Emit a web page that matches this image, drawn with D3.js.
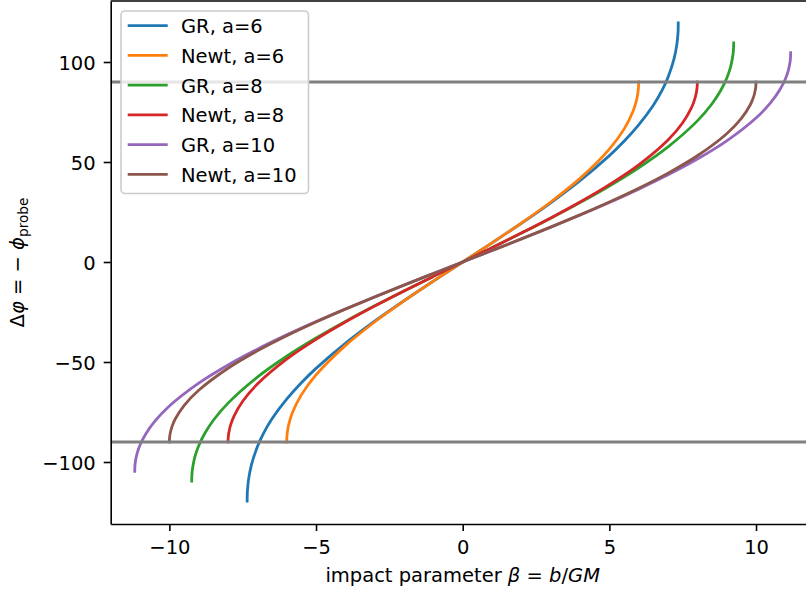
<!DOCTYPE html>
<html>
<head>
<meta charset="utf-8">
<script src="https://cdn.jsdelivr.net/npm/d3@7"></script>
<style>
  body { margin: 0; background: #fff; }
  svg { display: block; font-family: "DejaVu Sans", sans-serif; }
</style>
</head>
<body>
<svg id="chart" width="806" height="592"></svg>
<script>
// impact parameter beta = b/GM and deflection (degrees)
const grBeta6 = [-7.348, -7.345, -7.34, -7.3, -7.2, -7, -6.8, -6.5, -6, -5.5, -5, -4, -3, -2, -1, 0,
                 1, 2, 3, 4, 5, 5.5, 6, 6.5, 6.8, 7, 7.2, 7.3, 7.34, 7.345, 7.348];
const grPhi6 = [-119.6, -116.2, -114.6, -108.7, -101.3, -92.4, -85.9, -78.4, -68.6, -60.4, -53.2, -40.69, -29.62, -19.37, -9.58, 0,
                9.58, 19.37, 29.62, 40.69, 53.2, 60.4, 68.6, 78.4, 85.9, 92.4, 101.3, 108.7, 114.6, 116.2, 119.6];

const nwBeta6 = [-6, -5.99, -5.95, -5.9, -5.8, -5.5, -5, -4, -3, -2, -1, 0,
                 1, 2, 3, 4, 5, 5.5, 5.8, 5.9, 5.95, 5.99, 6];
const nwPhi6 = [-90, -86.69, -82.6, -79.52, -75.16, -66.44, -56.44, -41.81, -30, -19.47, -9.59, 0,
                9.59, 19.47, 30, 41.81, 56.44, 66.44, 75.16, 79.52, 82.6, 86.69, 90];

const grBeta8 = [-9.2376, -9.233, -9.22, -9.15, -9.1, -9, -8.8, -8.5, -8, -7, -6, -5, -4, -3, -2, -1, 0,
                 1, 2, 3, 4, 5, 6, 7, 8, 8.5, 8.8, 9, 9.1, 9.15, 9.22, 9.233, 9.2376];
const grPhi8 = [-109.6, -106.75, -104.38, -98.55, -95.93, -91.85, -85.88, -79.13, -70.56, -57.57, -47.14, -38.03, -29.72, -21.91, -14.45, -7.18, 0,
                7.18, 14.45, 21.91, 29.72, 38.03, 47.14, 57.57, 70.56, 79.13, 85.88, 91.85, 95.93, 98.55, 104.38, 106.75, 109.6];

const nwBeta8 = [-8, -7.99, -7.95, -7.9, -7.8, -7.5, -7, -6, -5, -4, -3, -2, -1, 0,
                 1, 2, 3, 4, 5, 6, 7, 7.5, 7.8, 7.9, 7.95, 7.99, 8];
const nwPhi8 = [-90, -87.13, -83.59, -80.93, -77.16, -69.64, -61.04, -48.59, -38.68, -30, -22.02, -14.48, -7.18, 0,
                7.18, 14.48, 22.02, 30, 38.68, 48.59, 61.04, 69.64, 77.16, 80.93, 83.59, 87.13, 90];

const grBeta10 = [-11.1803, -11.175, -11.16, -11.1, -11, -10.8, -10.5, -10, -9, -8, -7, -6, -5, -4, -3, -2, -1, 0,
                  1, 2, 3, 4, 5, 6, 7, 8, 9, 10, 10.5, 10.8, 11, 11.1, 11.16, 11.175, 11.1803];
const grPhi10 = [-104.7, -102.12, -99.97, -95.7, -91.5, -85.86, -79.68, -72.03, -60.58, -51.47, -43.57, -36.42, -29.76, -23.47, -17.42, -11.52, -5.74, 0,
                 5.74, 11.52, 17.42, 23.47, 29.76, 36.42, 43.57, 51.47, 60.58, 72.03, 79.68, 85.86, 91.5, 95.7, 99.97, 102.12, 104.7];

const nwBeta10 = [-10, -9.99, -9.95, -9.9, -9.8, -9.5, -9, -8, -7, -6, -5, -4, -3, -2, -1, 0,
                  1, 2, 3, 4, 5, 6, 7, 8, 9, 9.5, 9.8, 9.9, 9.95, 9.99, 10];
const nwPhi10 = [-90, -87.44, -84.27, -81.89, -78.52, -71.81, -64.16, -53.13, -44.43, -36.87, -30, -23.58, -17.46, -11.54, -5.74, 0,
                 5.74, 11.54, 17.46, 23.58, 30, 36.87, 44.43, 53.13, 64.16, 71.81, 78.52, 81.89, 84.27, 87.44, 90];

const seriesNames = ["GR, a=6", "Newt, a=6", "GR, a=8", "Newt, a=8", "GR, a=10", "Newt, a=10"];
const seriesBeta = [grBeta6, nwBeta6, grBeta8, nwBeta8, grBeta10, nwBeta10];
const seriesPhi = [grPhi6, nwPhi6, grPhi8, nwPhi8, grPhi10, nwPhi10];
const colors = ["#1f77b4", "#ff7f0e", "#2ca02c", "#d62728", "#9467bd", "#8c564b"];

const limitLines = [90, -90];
const xTicks = [-10, -5, 0, 5, 10];
const yTicks = [-100, -50, 0, 50, 100];

const fontSize = 19.5;

const svg = d3.select("#chart");

const x = d3.scaleLinear().domain([-12, 12]).range([110.7, 814.7]);
const y = d3.scaleLinear().domain([-131, 130.5]).range([524, 1]);

// curves
const line = d3.line()
    .x(d => x(d[0]))
    .y(d => y(d[1]))
    .curve(d3.curveCatmullRom.alpha(0.5));

const plot = svg.append("g");
seriesNames.forEach(function(name, i) {
  const pts = seriesBeta[i].map((b, j) => [b, seriesPhi[i][j]]);
  plot.append("path")
      .attr("d", line(pts))
      .attr("fill", "none")
      .attr("stroke", colors[i])
      .attr("stroke-width", 2.8)
      .attr("stroke-linecap", "square")
      .attr("stroke-linejoin", "round");
});

// horizontal lines at +-90
plot.selectAll(".hline")
    .data(limitLines)
    .enter()
    .append("line")
    .attr("x1", x.range()[0]).attr("x2", x.range()[1])
    .attr("y1", d => y(d)).attr("y2", d => y(d))
    .attr("stroke", "#808080")
    .attr("stroke-width", 2.8);

// axes
const xAxis = svg.append("g")
    .attr("transform", "translate(0," + y.range()[0] + ")")
    .call(d3.axisBottom(x).tickValues(xTicks).tickSize(7).tickPadding(9).tickSizeOuter(0));

const yAxis = svg.append("g")
    .attr("transform", "translate(" + x.range()[0] + ",0)")
    .call(d3.axisLeft(y).tickValues(yTicks).tickSize(7).tickPadding(8).tickSizeOuter(0));
yAxis.selectAll(".tick text").attr("dy", "0.38em");

[xAxis, yAxis].forEach(function(ax) {
  ax.select(".domain").attr("stroke", "#000").attr("stroke-width", 1.6);
  ax.selectAll(".tick line").attr("stroke", "#000").attr("stroke-width", 1.6);
  ax.selectAll(".tick text")
      .attr("fill", "#000")
      .style("font-family", "DejaVu Sans")
      .style("font-size", fontSize + "px");
});

// top and right spines
svg.append("line")
    .attr("x1", x.range()[0]).attr("x2", x.range()[1])
    .attr("y1", y.range()[1]).attr("y2", y.range()[1])
    .attr("stroke", "#000").attr("stroke-width", 1.6);
svg.append("line")
    .attr("x1", x.range()[1]).attr("x2", x.range()[1])
    .attr("y1", y.range()[0]).attr("y2", y.range()[1])
    .attr("stroke", "#000").attr("stroke-width", 1.6);

// x label
const xl = svg.append("text")
    .attr("x", (x.range()[0] + x.range()[1]) / 2)
    .attr("y", 581.5)
    .attr("text-anchor", "middle")
    .style("font-size", fontSize + "px")
    .attr("fill", "#000");
xl.append("tspan").text("impact parameter ");
xl.append("tspan").style("font-style", "italic").text("β");
xl.append("tspan").text(" = ");
xl.append("tspan").style("font-style", "italic").text("b");
xl.append("tspan").text("/");
xl.append("tspan").style("font-style", "italic").text("GM");

// y label
const yl = svg.append("text")
    .attr("transform", "translate(24," + (y.range()[0] + y.range()[1]) / 2 + ") rotate(-90)")
    .attr("text-anchor", "middle")
    .style("font-size", fontSize + "px")
    .attr("fill", "#000");
yl.append("tspan").text("Δ");
yl.append("tspan").style("font-style", "italic").text("φ");
yl.append("tspan").text(" = − ");
yl.append("tspan").style("font-style", "italic").text("ϕ");
yl.append("tspan").attr("dy", 4).style("font-size", (fontSize * 0.7) + "px").text("probe");

// legend
const legend = svg.append("g");
legend.append("rect")
    .attr("x", 121).attr("y", 11)
    .attr("width", 187.5).attr("height", 182.5)
    .attr("rx", 4).attr("ry", 4)
    .attr("fill", "#fff").attr("fill-opacity", 0.8)
    .attr("stroke", "#cccccc").attr("stroke-width", 1.6);

const rowY = d3.scaleLinear().domain([0, seriesNames.length - 1]).range([25.7, 174.3]);
const items = legend.selectAll(".item")
    .data(seriesNames)
    .enter()
    .append("g")
    .attr("class", "item")
    .attr("transform", (d, i) => "translate(0," + rowY(i) + ")");
items.append("line")
    .attr("x1", 127.7).attr("x2", 167.7)
    .attr("stroke", (d, i) => colors[i])
    .attr("stroke-width", 2.8);
items.append("text")
    .attr("x", 181)
    .attr("y", 7.4)
    .style("font-size", fontSize + "px")
    .attr("fill", "#000")
    .text(d => d);
</script>
</body>
</html>
